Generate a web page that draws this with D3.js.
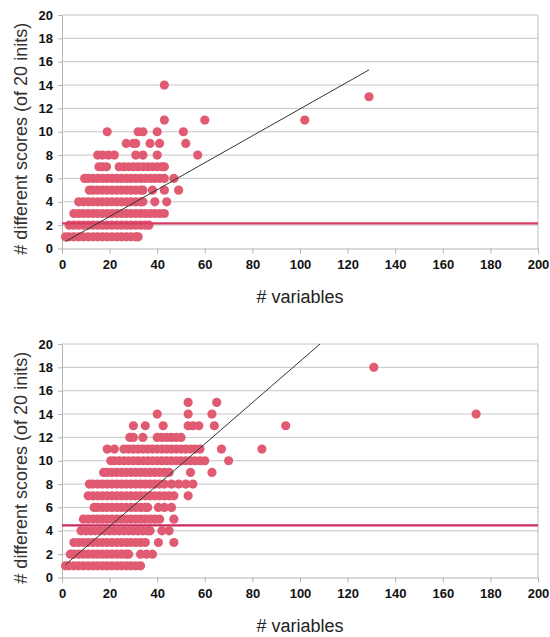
<!DOCTYPE html>
<html>
<head>
<meta charset="utf-8">
<script src="https://cdn.jsdelivr.net/npm/d3@7"></script>
<style>
    body { margin: 0; background: #fff; }
    svg { display: block; font-family: "Liberation Sans", Arial, sans-serif; }
</style>
</head>
<body>
<svg id="chart" width="550" height="637"></svg>
<script>
// rows of points: [score count, list of # variables]
const topRows = [
    [1, [1.5, 3, 5, 7, 9, 11, 13, 15, 17, 19, 21, 23, 25, 27, 29, 31, 32]],
    [2, [3, 5, 7, 9, 11, 13, 15, 17, 19, 21, 23, 25, 27, 29, 31, 33, 35, 36.5]],
    [3, [5, 7, 9, 11, 13, 15, 17, 19, 21, 23, 25, 27, 29, 31, 33, 35, 37, 39, 41, 43]],
    [4, [7, 9, 11, 13, 15, 17, 19, 21, 23, 25, 27, 29, 31, 33, 34, 39, 44]],
    [5, [11.5, 13, 15, 17, 19, 21, 23, 25, 27, 29, 31, 33, 34, 38, 43, 49]],
    [6, [9.5, 11, 13, 15, 17, 19, 21, 23, 25, 27, 29, 31, 33, 35, 37, 39, 41, 43, 47]],
    [7, [15.5, 17, 18.7, 24, 26, 28, 30, 32, 34, 36, 38, 40, 42, 43]],
    [8, [15, 17, 19.5, 22, 31, 34, 40, 57]],
    [9, [27, 30, 31, 37, 41, 52]],
    [10, [19, 32, 34, 40, 51]],
    [11, [43, 60, 102]],
    [13, [129]],
    [14, [43]]
];

const bottomRows = [
    [1, [1.5, 3, 5, 7, 9, 11, 13, 15, 17, 19, 21, 23, 25, 27, 29, 31, 33]],
    [2, [3.5, 5, 7, 9, 11, 13, 15, 17, 19, 21, 23, 25, 27, 28, 33, 35.5, 38]],
    [3, [5, 7, 9, 11, 13, 15, 17, 19, 21, 23, 25, 27, 29, 31, 33, 35, 40.5, 47]],
    [4, [8, 10, 12, 14, 16, 18, 20, 22, 24, 26, 28, 30, 32, 34, 36, 37, 42, 45]],
    [5, [9, 11, 13, 15, 17, 19, 21, 23, 25, 27, 29, 31, 33, 35, 37, 39, 41, 47]],
    [6, [13.5, 15, 17, 19, 21, 23, 25, 27, 29, 31, 33, 35, 36, 40.5, 43, 46]],
    [7, [11, 13, 15, 17, 19, 21, 23, 25, 27, 29, 31, 33, 35, 37, 39, 41, 43, 45, 47, 53]],
    [8, [11.5, 13, 15, 17, 19, 21, 23, 25, 27, 29, 31, 33, 35, 37, 39, 41, 43, 46, 49, 52, 55]],
    [9, [17.5, 19, 21, 23, 25, 27, 29, 31, 33, 35, 37, 39, 41, 43, 45, 54, 63]],
    [10, [20.5, 22, 24, 26, 28, 30, 32, 34, 36, 38, 40, 42, 44, 46, 48, 50, 52, 54, 56, 58, 60, 70]],
    [11, [19, 22, 26, 28, 30, 32, 34, 36, 38, 40, 42, 44, 46, 48, 50, 52, 54, 56, 58, 67, 84]],
    [12, [28.5, 30, 34, 40, 42, 44, 46, 48, 50]],
    [13, [30, 35, 42.5, 53, 55, 57.5, 64, 94]],
    [14, [40, 53, 63, 174]],
    [15, [53, 65]],
    [18, [131]]
];

// trend line endpoints [x, y] and mean level
const topTrend = [[1.5, 0.6], [129, 15.3]];
const bottomTrend = [[1.5, 1.1], [108.4, 20]];
const topMean = 2.15;
const bottomMean = 4.47;

const xTicks = [0, 20, 40, 60, 80, 100, 120, 140, 160, 180, 200];
const yTicks = [0, 2, 4, 6, 8, 10, 12, 14, 16, 18, 20];

const xTitle = "# variables";
const yTitle = "# different scores (of 20 inits)";

const svg = d3.select("#chart");

function drawChart(rows, trend, mean, top, meanColor) {
    const left = 62, right = 538, plotH = 233.5;
    const bottom = top + plotH;

    const x = d3.scaleLinear().domain([0, 200]).range([left, right]);
    const y = d3.scaleLinear().domain([0, 20]).range([bottom, top]);

    const g = svg.append("g");

    // grid lines
    g.selectAll(".grid")
        .data(yTicks.filter(d => d > 0))
        .enter().append("line")
        .attr("x1", left).attr("x2", right)
        .attr("y1", d => y(d)).attr("y2", d => y(d))
        .attr("stroke", "#c6c6c6")
        .attr("stroke-width", 1);

    // right border
    g.append("line")
        .attr("x1", right).attr("x2", right)
        .attr("y1", top).attr("y2", bottom)
        .attr("stroke", "#bdbdbd");

    const xAxis = g.append("g")
        .attr("transform", `translate(0,${bottom})`)
        .call(d3.axisBottom(x).tickValues(xTicks).tickSize(5).tickPadding(6).tickSizeOuter(0));
    const yAxis = g.append("g")
        .attr("transform", `translate(${left},0)`)
        .call(d3.axisLeft(y).tickValues(yTicks).tickSize(4).tickPadding(5).tickSizeOuter(0));

    [xAxis, yAxis].forEach(a => {
        a.select(".domain").attr("stroke", "#b3b3b3");
        a.selectAll(".tick line").attr("stroke", "#b3b3b3");
        a.selectAll("text")
            .attr("fill", "#111")
            .style("font-size", "13px")
            .style("font-weight", "bold")
            .style("font-family", "'Liberation Sans', Arial, sans-serif");
    });

    const points = [];
    rows.forEach(([score, xs]) => xs.forEach(v => points.push({ v, score })));

    g.selectAll(".dot")
        .data(points)
        .enter().append("circle")
        .attr("cx", d => x(d.v))
        .attr("cy", d => y(d.score))
        .attr("r", 4.6)
        .attr("fill", "#e05b72");

    // mean level
    g.append("line")
        .attr("x1", left).attr("x2", right)
        .attr("y1", y(mean)).attr("y2", y(mean))
        .attr("stroke", meanColor)
        .attr("stroke-width", 2.2);

    // trend
    g.append("path")
        .datum(trend)
        .attr("fill", "none")
        .attr("stroke", "#333")
        .attr("stroke-width", 1)
        .attr("d", d3.line().x(d => x(d[0])).y(d => y(d[1])));

    g.append("text")
        .attr("x", (left + right) / 2)
        .attr("y", bottom + 54)
        .attr("text-anchor", "middle")
        .attr("fill", "#222")
        .style("font-size", "18px")
        .text(xTitle);

    g.append("text")
        .attr("transform", `translate(27,${(top + bottom) / 2 + 7}) rotate(-90)`)
        .attr("text-anchor", "middle")
        .attr("fill", "#333")
        .style("font-size", "18px")
        .text(yTitle);
}

drawChart(topRows, topTrend, topMean, 15, "#d83c62");
drawChart(bottomRows, bottomTrend, bottomMean, 344, "#cc2c60");
</script>
</body>
</html>
